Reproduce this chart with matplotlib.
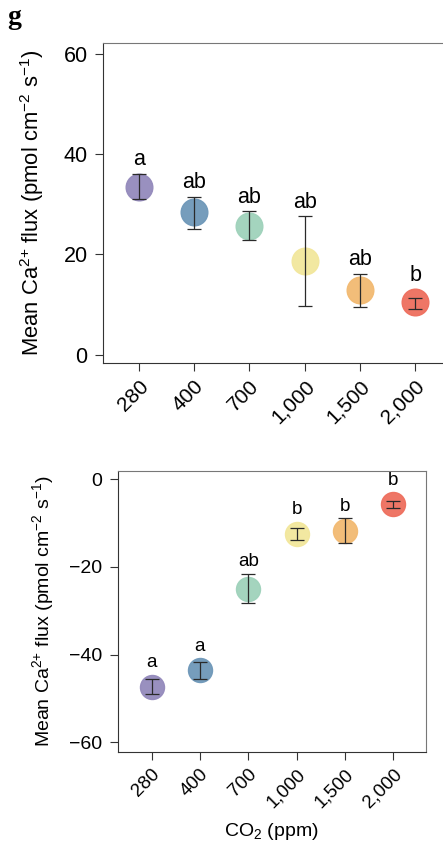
import matplotlib
matplotlib.use("Agg")
import matplotlib.pyplot as plt

plt.rcParams['font.family'] = ['Liberation Sans', 'DejaVu Sans']
plt.rcParams['mathtext.default'] = 'regular'

# CO2 treatments
co2_labels = ["280", "400", "700", "1,000", "1,500", "2,000"]
colors = ["#948ABC", "#6F98B9", "#9FD2BB", "#F2E79C", "#F2BA72", "#EE6F5E"]

# top panel: mean flux with lower / upper error bar ends
top_mean = [33.5, 28.5, 25.7, 18.7, 12.8, 10.4]
top_low = [31.0, 25.1, 22.9, 9.7, 9.5, 9.0]
top_high = [36.1, 31.5, 28.6, 27.6, 16.1, 11.3]
top_letters = ["a", "ab", "ab", "ab", "ab", "b"]

# bottom panel
bot_mean = [-47.3, -43.6, -25.0, -12.5, -11.8, -5.8]
bot_low = [-49.1, -45.6, -28.3, -13.9, -14.5, -6.5]
bot_high = [-45.6, -41.7, -21.6, -11.1, -8.9, -5.0]
bot_letters = ["a", "a", "ab", "b", "b", "b"]

ylabel = r'Mean Ca$^{2{+}}$ flux (pmol cm$^{-2}$ s$^{-1}$)'

fig = plt.figure(figsize=(4.43, 8.46), dpi=100)


def panel(ax, mean, low, high, letters, ylim, yticks, xlim, msize, fs, xfs, lfs):
    x = list(range(1, len(mean) + 1))
    ax.set_xlim(*xlim)
    ax.set_ylim(*ylim)
    for i in range(len(mean)):
        ax.plot(x[i], mean[i], 'o', ms=msize, color=colors[i], mec=colors[i],
                alpha=0.95, zorder=2)
        ax.errorbar(x[i], mean[i], yerr=[[mean[i] - low[i]], [high[i] - mean[i]]],
                    fmt='none', ecolor='#2a2a2a', elinewidth=0.9, capsize=5,
                    capthick=0.9, zorder=3)
    # letters sit above whichever is higher: error bar or circle
    for i in range(len(mean)):
        p = ax.transData.transform((x[i], mean[i]))
        top_px = p[1] + msize / 2 * fig.dpi / 72
        circ_top = ax.transData.inverted().transform((p[0], top_px))[1]
        ax.annotate(letters[i], (x[i], max(high[i], circ_top)), xytext=(0, 2.5),
                    textcoords='offset points', ha='center', va='bottom', fontsize=lfs)
    ax.set_yticks(yticks)
    ax.set_xticks(x)
    ax.set_xticklabels(co2_labels, rotation=45, ha='right', va='top',
                       rotation_mode='anchor', fontsize=xfs)
    ax.tick_params(direction='out', length=6, width=0.8, pad=5, color='#333333')
    ax.tick_params(axis='y', labelsize=fs)
    ax.tick_params(axis='x', pad=4)
    for s in ['left', 'bottom']:
        ax.spines[s].set_color('#333333')
    for s in ['top', 'right']:
        ax.spines[s].set_color('#777777')


ax1 = fig.add_axes([0.2325, 0.5709, 0.7856, 0.3783])
panel(ax1, top_mean, top_low, top_high, top_letters, (-1.7, 62.2),
      [0, 20, 40, 60], (0.35, 6.65), 19.2, 15.5, 15, 15.5)
ax1.set_ylabel(ylabel, fontsize=15.8)
ax1.yaxis.set_label_coords(-0.165, 0.5)

ax2 = fig.add_axes([0.2657, 0.1115, 0.6953, 0.3321])
panel(ax2, bot_mean, bot_low, bot_high, bot_letters, (-62.15, 1.9),
      [-60, -40, -20, 0], (0.3, 6.67), 17.3, 14, 13.5, 13.5)
ax2.set_ylabel(ylabel, fontsize=14)
ax2.yaxis.set_label_coords(-0.2, 0.5)
ax2.set_xlabel(r'CO$_2$ (ppm)', fontsize=14, labelpad=7)

fig.text(0.016, 0.994, 'g', fontsize=20, fontweight='bold',
         family='Liberation Serif', va='top', ha='left')

fig.savefig("out.png", dpi=100)
